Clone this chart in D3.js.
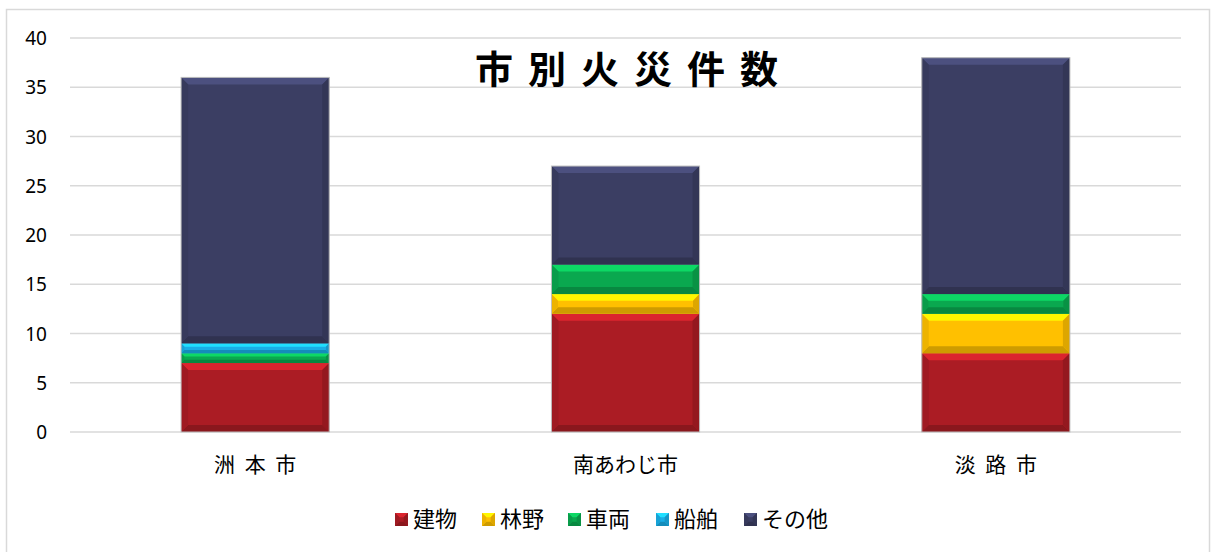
<!DOCTYPE html>
<html>
<head>
<meta charset="utf-8">
<script src="https://cdn.jsdelivr.net/npm/d3@7"></script>
<style>
  body { margin: 0; background: #fff; }
  text { font-family: "Noto Sans CJK JP", "Noto Sans", sans-serif; fill: #000; }
</style>
</head>
<body>
<svg id="chart" width="1217" height="552"></svg>
<script>
// data
var cities = ["洲 本 市", "南あわじ市", "淡 路 市"];
var series = ["建物", "林野", "車両", "船舶", "その他"];
var building = [7, 12, 8];
var forest   = [0, 2, 4];
var vehicle  = [1, 3, 2];
var ship     = [1, 0, 0];
var other    = [27, 10, 24];
var yTicks = [0, 5, 10, 15, 20, 25, 30, 35, 40];
var colors = ["#ab1c24", "#ffc000", "#0aa84f", "#19aee6", "#3b3e63"];

var table = cities.map(function(c, i) {
  return {city: c, "建物": building[i], "林野": forest[i], "車両": vehicle[i], "船舶": ship[i], "その他": other[i]};
});

var svg = d3.select("#chart");

// outer frame
svg.append("rect")
  .attr("x", 6.5).attr("y", 9.5)
  .attr("width", 1203).attr("height", 560)
  .attr("fill", "#fff")
  .attr("stroke", "#d9d9d9")
  .attr("stroke-width", 1.5);

var margin = {left: 70, right: 36, top: 38, bottom: 120},
    width = 1217 - margin.left - margin.right,
    height = 432 - margin.top;

var g = svg.append("g").attr("transform", "translate(" + margin.left + "," + margin.top + ")");

var x = d3.scaleBand().domain(cities).range([0, width]).paddingInner(0.6).paddingOuter(0.3);
var y = d3.scaleLinear().domain([0, 40]).range([height, 0]);

// gridlines
g.append("g")
  .selectAll("line")
  .data(yTicks)
  .enter().append("line")
  .attr("x1", 0).attr("x2", width)
  .attr("y1", function(d) { return y(d); })
  .attr("y2", function(d) { return y(d); })
  .attr("stroke", "#d9d9d9")
  .attr("stroke-width", 1.5);

// y axis
var yAxis = g.append("g")
  .attr("transform", "translate(-23,0)")
  .call(d3.axisLeft(y).tickValues(yTicks).tickSize(0).tickPadding(0));
yAxis.select(".domain").remove();
yAxis.selectAll("text")
  .style("font-family", "'Noto Sans', sans-serif")
  .style("font-size", "19px")
  .attr("dy", "0.35em");

// x axis
var xAxis = g.append("g")
  .attr("transform", "translate(0," + height + ")")
  .call(d3.axisBottom(x).tickSize(0).tickPadding(25));
xAxis.select(".domain").remove();
xAxis.selectAll("text")
  .style("font-size", "21px")
  .style("word-spacing", "5px");

// bevel helper
function bevel(sel, color, bx, by, bw, bh) {
  var b = Math.min(7, bh / 3, bw / 3);
  var c = d3.color(color);
  sel.append("rect").attr("x", bx).attr("y", by).attr("width", bw).attr("height", bh).attr("fill", color);
  var pts = function(p) { return p.map(function(q) { return q.join(","); }).join(" "); };
  // top
  sel.append("polygon")
    .attr("points", pts([[bx, by], [bx + bw, by], [bx + bw - b, by + b], [bx + b, by + b]]))
    .attr("fill", c.brighter(0.7));
  // bottom
  sel.append("polygon")
    .attr("points", pts([[bx, by + bh], [bx + bw, by + bh], [bx + bw - b, by + bh - b], [bx + b, by + bh - b]]))
    .attr("fill", c.darker(0.6));
  // left
  sel.append("polygon")
    .attr("points", pts([[bx, by], [bx + b, by + b], [bx + b, by + bh - b], [bx, by + bh]]))
    .attr("fill", c.darker(0.2));
  // right
  sel.append("polygon")
    .attr("points", pts([[bx + bw, by], [bx + bw - b, by + b], [bx + bw - b, by + bh - b], [bx + bw, by + bh]]))
    .attr("fill", c.darker(0.4));
}

// stacked bars
var stack = d3.stack().keys(series)(table);
stack.forEach(function(layer, li) {
  layer.forEach(function(d) {
    if (d[1] - d[0] <= 0) return;
    var bx = x(d.data.city), by = y(d[1]), bh = y(d[0]) - y(d[1]);
    bevel(g.append("g"), colors[li], bx, by, x.bandwidth(), bh);
  });
});

// bar outlines
g.append("g").selectAll("rect")
  .data(table)
  .enter().append("rect")
  .attr("x", function(d) { return x(d.city); })
  .attr("y", function(d) { return y(d3.sum(series, function(k) { return d[k]; })); })
  .attr("width", x.bandwidth())
  .attr("height", function(d) { return height - y(d3.sum(series, function(k) { return d[k]; })); })
  .attr("fill", "none")
  .attr("stroke", "#bfbfbf")
  .attr("stroke-width", 1);

// title
svg.append("text")
  .attr("x", 475)
  .attr("y", 83)
  .attr("text-anchor", "start")
  .style("font-size", "38px")
  .style("font-weight", "bold")
  .style("letter-spacing", "15px")
  .text("市別火災件数");

// legend
var legendX = [395, 482, 568, 656, 744];
var legend = svg.append("g").selectAll("g")
  .data(series)
  .enter().append("g")
  .attr("transform", function(d, i) { return "translate(" + legendX[i] + ",513)"; });
legend.each(function(d, i) {
  bevel(d3.select(this), colors[i], 0, 0, 13, 13);
});
legend.append("text")
  .attr("x", 18)
  .attr("y", 6.5)
  .attr("dy", "0.36em")
  .style("font-size", "22px")
  .text(function(d) { return d; });
</script>
</body>
</html>
